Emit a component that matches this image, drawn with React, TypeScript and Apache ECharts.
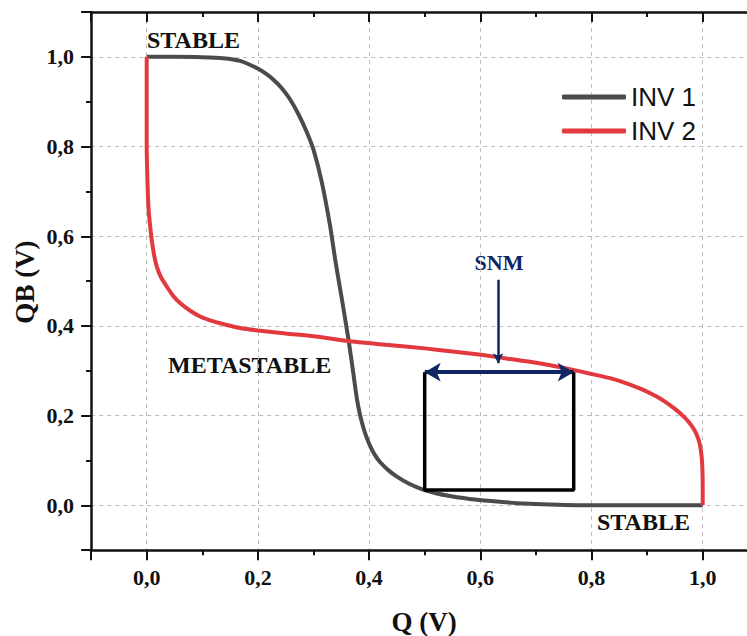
import React, { useEffect, useRef } from 'react';
import * as echarts from 'echarts';

// INV 1 transfer curve (Q, QB)
const inv1Points: number[][] = [
  [0, 1.0], [0.05, 1.0], [0.1, 0.999], [0.137, 0.997], [0.168, 0.991], [0.198, 0.975], [0.215, 0.962],
  [0.228, 0.949], [0.243, 0.93], [0.258, 0.905], [0.273, 0.872], [0.288, 0.832], [0.3, 0.793],
  [0.315, 0.72], [0.33, 0.622], [0.339, 0.548], [0.351, 0.46], [0.363, 0.369], [0.371, 0.3],
  [0.378, 0.238], [0.384, 0.2], [0.39, 0.172], [0.396, 0.15], [0.402, 0.132], [0.41, 0.113],
  [0.42, 0.096], [0.435, 0.078], [0.45, 0.064], [0.472, 0.048], [0.497, 0.035], [0.52, 0.027],
  [0.545, 0.021], [0.59, 0.013], [0.635, 0.008], [0.68, 0.004], [0.725, 0.002], [0.8, 0], [0.9, 0], [1.0, 0],
];
// INV 2 transfer curve (Q, QB)
const inv2Points: number[][] = [
  [0, 1.0], [0, 0.9], [0, 0.8], [0.001, 0.74], [0.003, 0.667], [0.006, 0.625], [0.009, 0.592],
  [0.013, 0.56], [0.018, 0.533], [0.026, 0.508], [0.036, 0.488], [0.047, 0.468], [0.06, 0.451],
  [0.077, 0.435], [0.096, 0.421], [0.12, 0.41], [0.144, 0.402], [0.17, 0.395], [0.2, 0.39],
  [0.25, 0.383], [0.3, 0.377], [0.366, 0.366], [0.43, 0.358], [0.5, 0.35], [0.55, 0.343],
  [0.605, 0.335], [0.65, 0.327], [0.7, 0.318], [0.735, 0.31], [0.767, 0.302], [0.8, 0.293],
  [0.835, 0.283], [0.863, 0.272], [0.89, 0.259], [0.91, 0.247], [0.93, 0.233], [0.95, 0.215],
  [0.965, 0.199], [0.976, 0.184], [0.985, 0.168], [0.991, 0.152], [0.995, 0.135], [0.998, 0.11],
  [0.9995, 0.08], [1.0, 0.04], [1.0, 0.0],
];
// SNM square
const snmBoxQ = [0.5, 0.5, 0.768, 0.768];
const snmBoxQB = [0.297, 0.034, 0.034, 0.297];
const snmArrowQ = [0.5, 0.768];
const snmArrowQB = 0.297;
const snmPointerQ = 0.632;
const snmPointerQB = [0.503, 0.317];

const seriesNames = ['INV 1', 'INV 2'];
const axisMin = -0.1;
const axisMax = 1.1;

const SERIF = '"Liberation Serif", "Times New Roman", serif';
const SANS = '"Liberation Sans", Arial, sans-serif';
const NAVY = '#0f2663';

const fmt = (v: number) => {
  const r = Math.round(v * 10);
  if (r % 2 !== 0 || r < 0 || r > 10) return '';
  return (r / 10).toFixed(1).replace('.', ',');
};

export default function App() {
  const ref = useRef<HTMLDivElement>(null);
  useEffect(() => {
    if (!ref.current) return;
    const chart = echarts.init(ref.current, null, { renderer: 'svg' });
    const axisLine = { show: true, onZero: false, lineStyle: { color: '#111', width: 2.5 } };
    const noLine = { show: false, onZero: false };
    const labelStyle = { fontFamily: SERIF, fontWeight: 'bold' as const, fontSize: 22, color: '#111' };
    const split = { show: true, lineStyle: { color: '#bdbdbd', type: [4, 4] as any, width: 1 } };
    const tickStyle = { color: '#111', width: 2 };
    const boxData = snmBoxQ.map((q, i) => [q, snmBoxQB[i]]);
    chart.setOption({
      animation: false,
      backgroundColor: '#fff',
      grid: { left: 91.1, top: 12, width: 667.2, height: 538.2, containLabel: false, outerBoundsMode: 'none' },
      xAxis: [
        {
          type: 'value', position: 'bottom', min: axisMin, max: axisMax,
          axisLine, axisTick: { show: true, inside: false, length: 10, lineStyle: tickStyle },
          axisLabel: { ...labelStyle, margin: 16, formatter: fmt },
          splitLine: split,
        },
        {
          type: 'value', position: 'top', min: axisMin, max: axisMax,
          axisLine, axisTick: { show: true, inside: true, length: 10, lineStyle: tickStyle },
          axisLabel: { show: false }, splitLine: { show: false },
        },
        {
          type: 'value', position: 'bottom', min: axisMin, max: axisMax, interval: 0.1,
          axisLine: noLine, axisTick: { show: true, inside: false, length: 5, lineStyle: tickStyle },
          axisLabel: { show: false }, splitLine: { show: false },
        },
        {
          type: 'value', position: 'top', min: axisMin, max: axisMax, interval: 0.1,
          axisLine: noLine, axisTick: { show: true, inside: true, length: 5, lineStyle: tickStyle },
          axisLabel: { show: false }, splitLine: { show: false },
        },
      ],
      yAxis: [
        {
          type: 'value', position: 'left', min: axisMin, max: axisMax,
          axisLine, axisTick: { show: true, inside: false, length: 10, lineStyle: tickStyle },
          axisLabel: { ...labelStyle, margin: 17, formatter: fmt },
          splitLine: split,
        },
        {
          type: 'value', position: 'left', min: axisMin, max: axisMax, interval: 0.1,
          axisLine: noLine, axisTick: { show: true, inside: false, length: 5, lineStyle: tickStyle },
          axisLabel: { show: false }, splitLine: { show: false },
        },
      ],
      legend: {
        orient: 'vertical', left: 557, top: 79, itemWidth: 64, itemHeight: 5, itemGap: 8,
        icon: 'roundRect', data: seriesNames,
        textStyle: { fontFamily: SANS, fontSize: 26, color: '#111', lineHeight: 26 },
      },
      series: [
        {
          name: seriesNames[0], type: 'line', data: inv1Points, showSymbol: false, symbol: 'none',
          smooth: 0.2, color: '#4b4b4b', lineStyle: { color: '#4b4b4b', width: 4 }, z: 3,
        },
        {
          name: seriesNames[1], type: 'line', data: inv2Points, showSymbol: false, symbol: 'none',
          smooth: 0.2, color: '#e2393e', lineStyle: { color: '#e2393e', width: 4 }, z: 4,
        },
        {
          name: 'SNM box', type: 'line', data: boxData, showSymbol: false, symbol: 'none',
          lineStyle: { color: '#000', width: 3.5 }, z: 5,
        },
        {
          name: 'SNM arrow', type: 'line', data: [], z: 6,
          markLine: {
            silent: true, animation: false, label: { show: false },
            symbol: ['arrow', 'arrow'], symbolSize: [14, 16],
            lineStyle: { color: NAVY, width: 4, type: 'solid' },
            data: [[{ coord: [snmArrowQ[0], snmArrowQB] }, { coord: [snmArrowQ[1], snmArrowQB] }]],
          },
        },
        {
          name: 'SNM pointer', type: 'line', data: [], z: 6,
          markLine: {
            silent: true, animation: false, label: { show: false },
            symbol: ['none', 'arrow'], symbolSize: [8, 10],
            lineStyle: { color: NAVY, width: 2.5, type: 'solid' },
            data: [[{ coord: [snmPointerQ, snmPointerQB[0]] }, { coord: [snmPointerQ, snmPointerQB[1]] }]],
          },
        },
      ],
      graphic: [
        { type: 'text', x: 147, y: 40, style: { text: 'STABLE', font: `bold 24px ${SERIF}`, fill: '#111', align: 'left', verticalAlign: 'middle' } },
        { type: 'text', x: 168, y: 365, style: { text: 'METASTABLE', font: `bold 24px ${SERIF}`, fill: '#111', align: 'left', verticalAlign: 'middle' } },
        { type: 'text', x: 597, y: 522, style: { text: 'STABLE', font: `bold 24px ${SERIF}`, fill: '#111', align: 'left', verticalAlign: 'middle' } },
        { type: 'text', x: 499, y: 262, style: { text: 'SNM', font: `bold 22px ${SERIF}`, fill: NAVY, align: 'center', verticalAlign: 'middle' } },
        { type: 'text', x: 25, y: 282, rotation: Math.PI / 2, style: { text: 'QB (V)', font: `bold 27px ${SERIF}`, fill: '#111', align: 'center', verticalAlign: 'middle' } },
        { type: 'text', x: 424, y: 622, style: { text: 'Q (V)', font: `bold 27px ${SERIF}`, fill: '#111', align: 'center', verticalAlign: 'middle' } },
      ],
    });
    return () => chart.dispose();
  }, []);
  return <div ref={ref} style={{ position: 'absolute', left: 0, top: 0, width: 747, height: 636 }} />;
}
